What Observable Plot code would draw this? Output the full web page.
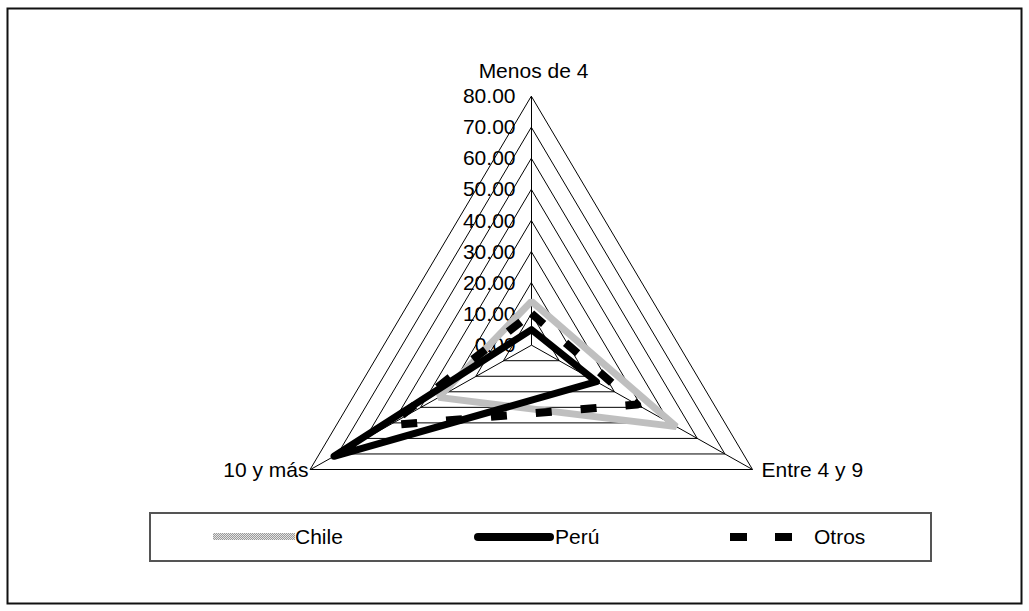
<!DOCTYPE html>
<html>
<head>
<meta charset="utf-8">
<script src="https://cdn.jsdelivr.net/npm/d3@7"></script>
<script src="https://cdn.jsdelivr.net/npm/@observablehq/plot@0.6"></script>
<style>
  html, body { margin: 0; padding: 0; background: #fff; }
  #wrap { position: relative; width: 1029px; height: 611px; font-family: "Liberation Sans", Arial, sans-serif; }
  #wrap > svg { position: absolute; left: 0; top: 0; }
  #legend {
    position: absolute; left: 149px; top: 512px; width: 779px; height: 46px;
    border: 2px solid #555; box-sizing: content-box;
  }
  #legend .item { position: absolute; top: 0; height: 46px; display: flex; align-items: center; font-size: 21px; color: #000; }
</style>
</head>
<body>
<div id="wrap"></div>
<script>
// Radar axes (clockwise from the top) and the share of each group per axis, in %
const categories = ["Menos de 4", "Entre 4 y 9", "10 y más"];
const seriesNames = ["Chile", "Perú", "Otros"];
const chileValues = [14.1, 52.4, 33.6];
const peruValues = [5.0, 23.5, 71.5];
const otrosValues = [10.2, 38.2, 51.6];
const gridLevels = [10, 20, 30, 40, 50, 60, 70, 80];
const tickValues = [0, 10, 20, 30, 40, 50, 60, 70, 80];

const maxValue = 80;
const angle = i => i * 2 * Math.PI / categories.length;
const polar = (v, i) => ({x: v * Math.sin(angle(i)), y: v * Math.cos(angle(i))});

const seriesRows = (name, values) =>
  values.map((v, i) => ({series: name, category: categories[i], value: v, ...polar(v, i)}));
const chileRows = seriesRows(seriesNames[0], chileValues);
const peruRows = seriesRows(seriesNames[1], peruValues);
const otrosRows = seriesRows(seriesNames[2], otrosValues);

const gridRows = gridLevels.flatMap(l => categories.map((c, i) => ({level: l, ...polar(l, i)})));
const spokeRows = categories.map((c, i) => ({category: c, ...polar(maxValue, i)}));
const tickRows = tickValues.map(v => ({value: v, ...polar(v, 0)}));
const labelRows = categories.map((c, i) => ({label: c, ...polar(maxValue, i)}));

const xExtent = maxValue * Math.sin(angle(1));
const font = "\"Liberation Sans\", Arial, sans-serif";

const svg = Plot.plot({
  width: 1029,
  height: 611,
  margin: 0,
  style: {fontFamily: font, fontSize: "21px", background: "#fff", overflow: "visible"},
  x: {domain: [-xExtent, xExtent], range: [310, 752], axis: null},
  y: {domain: [-maxValue / 2, maxValue], range: [469, 96], axis: null},
  marks: [
    // outer chart border
    Plot.frame({stroke: "#111", strokeWidth: 2, insetLeft: 7, insetTop: 8, insetRight: 8, insetBottom: 8}),
    // concentric triangular grid
    Plot.line(gridRows, {x: "x", y: "y", z: "level", curve: "linear-closed", stroke: "#000", strokeWidth: 1}),
    Plot.link(spokeRows, {x1: d => 0, y1: d => 0, x2: "x", y2: "y", stroke: "#000", strokeWidth: 1}),
    // scale labels along the top axis
    Plot.text(tickRows, {x: "x", y: "y", text: d => d.value.toFixed(2), textAnchor: "end", dx: -16, fill: "#000"}),
    // axis names
    Plot.text(labelRows.filter((d, i) => i === 0), {x: "x", y: "y", text: "label", dx: 2, dy: -25, fill: "#000"}),
    Plot.text(labelRows.filter((d, i) => i === 1), {x: "x", y: "y", text: "label", textAnchor: "start", dx: 9, dy: 1, fill: "#000"}),
    Plot.text(labelRows.filter((d, i) => i === 2), {x: "x", y: "y", text: "label", textAnchor: "end", dx: -2, dy: 1, fill: "#000"}),
    // series
    Plot.line(chileRows, {x: "x", y: "y", curve: "linear-closed", stroke: "url(#chileDither)", strokeWidth: 7, strokeLinejoin: "miter"}),
    Plot.line(peruRows, {x: "x", y: "y", curve: "linear-closed", stroke: "#000", strokeWidth: 7, strokeLinejoin: "round", strokeLinecap: "round"}),
    Plot.line(otrosRows, {x: "x", y: "y", curve: "linear-closed", stroke: "#000", strokeWidth: 8, strokeDasharray: "16,29", strokeLinecap: "butt"})
  ]
});

// fine grey dither used for the Chile series
const ditherDefs = id => `<pattern id="${id}" width="2" height="2" patternUnits="userSpaceOnUse">
  <rect width="2" height="2" fill="#e4e4e4"/><rect width="1" height="1" fill="#9a9a9a"/><rect x="1" y="1" width="1" height="1" fill="#9a9a9a"/></pattern>`;
d3.select(svg).insert("defs", ":first-child").html(ditherDefs("chileDither"));

const wrap = document.getElementById("wrap");
wrap.appendChild(svg);

// legend
const legend = document.createElement("div");
legend.id = "legend";
wrap.appendChild(legend);

const swatches = {
  "Chile": `<svg width="82" height="10"><defs>${ditherDefs("chileDitherKey")}</defs><rect x="0" y="1" width="82" height="7" fill="url(#chileDitherKey)"/></svg>`,
  "Perú": `<svg width="80" height="10"><line x1="4" y1="5" x2="76" y2="5" stroke="#000" stroke-width="8" stroke-linecap="round"/></svg>`,
  "Otros": `<svg width="62" height="10"><line x1="0" y1="5" x2="62" y2="5" stroke="#000" stroke-width="8" stroke-dasharray="17,28"/></svg>`
};
const itemLeft = {"Chile": 62, "Perú": 323, "Otros": 579};
const textGap = {"Chile": 0, "Perú": 1, "Otros": 22};
seriesNames.forEach(name => {
  const item = document.createElement("div");
  item.className = "item";
  item.style.left = itemLeft[name] + "px";
  item.innerHTML = swatches[name] + `<span style="margin-left:${textGap[name]}px">${name}</span>`;
  legend.appendChild(item);
});
</script>
</body>
</html>
